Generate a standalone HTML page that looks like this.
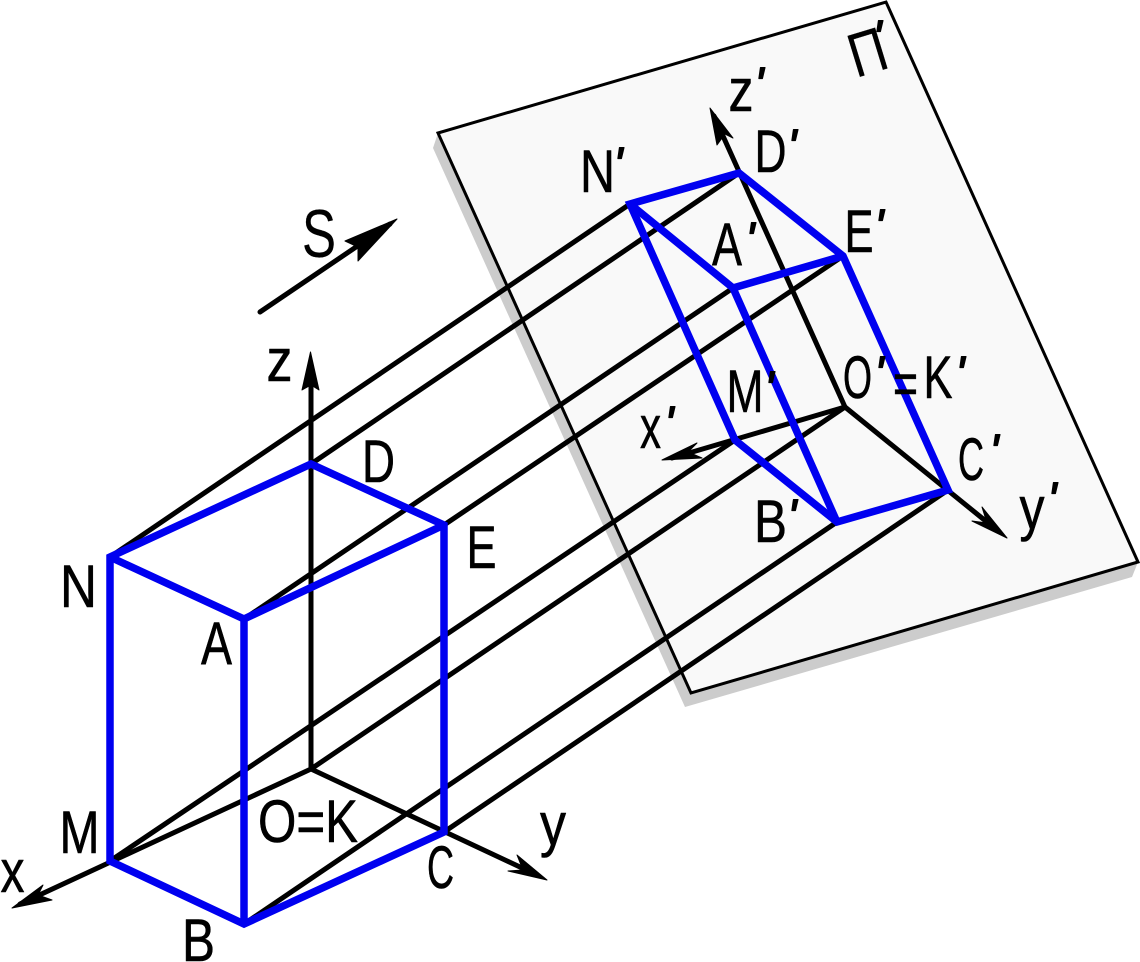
<!DOCTYPE html>
<html><head><meta charset="utf-8"><style>
html,body{margin:0;padding:0;background:#fff}
svg{display:block}
text{font-family:"Liberation Sans",sans-serif;font-size:60px;fill:#000;stroke:#000;stroke-width:.6px;stroke-linejoin:round}
.p{font-size:50px;font-style:italic;stroke-width:1.2px}
</style></head><body>
<svg width="1140" height="962" viewBox="0 0 1140 962" xmlns="http://www.w3.org/2000/svg">
<polygon points="433,148 438,133 691,693 1127,565 1138,562 1132,577 685,707" fill="#cccccc"/>
<polygon points="438,133 886,2 1138,562 691,693" fill="#f9f9f9" stroke="#000" stroke-width="3" stroke-linejoin="miter"/>
<g stroke="#000" stroke-width="5" stroke-linecap="round" fill="none">
<path d="M110 557L630 204M244 619L733 288M311 464L739 173M444 525L843 256M110 861L735 440M311 769L845 407M244 924L837 522M444 832L948 490"/>
<path d="M311 769V365M311 769L20 904M311 769L537 875M845 407L714 116M845 407L672 458M845 407L998 531M260 312L390 224"/>
</g>
<g fill="#000" stroke="#000" stroke-width="1" stroke-linejoin="round">
<polygon points="310.5,352 319,390 311,385 302,390"/>
<polygon points="12,908 43,885 38,895 52,900"/>
<polygon points="547,880 517,855 523,870 508,871"/>
<polygon points="710,108 733,138 725,134 717,145"/>
<polygon points="662,460 697,443 688,452 702,458"/>
<polygon points="1007,538 982,507 987,523 972,521"/>
<polygon points="397,219 345,241 358,247 358,261"/>
</g>
<g stroke="#0000f0" stroke-width="7.5" stroke-linejoin="miter" stroke-linecap="butt" fill="none">
<path d="M110 861V557L311 464L444 525V832L244 924Z"/>
<path d="M244 924V619L110 557M244 619L444 525"/>
<path d="M735 440L630 204L739 173L843 256L948 490L837 522Z"/>
<path d="M837 522L733 288L630 204M733 288L843 256"/>
</g>
<text x="266.5" y="381" textLength="26" lengthAdjust="spacingAndGlyphs">z</text>
<text x="362" y="482" textLength="33" lengthAdjust="spacingAndGlyphs">D</text>
<text x="60" y="607" textLength="37" lengthAdjust="spacingAndGlyphs">N</text>
<text x="466.5" y="568" textLength="30" lengthAdjust="spacingAndGlyphs">E</text>
<text x="201" y="664" textLength="31" lengthAdjust="spacingAndGlyphs">A</text>
<text x="59.5" y="853" textLength="40" lengthAdjust="spacingAndGlyphs">M</text>
<text x="258" y="842" textLength="100" lengthAdjust="spacingAndGlyphs">O=K</text>
<text x="427" y="888" textLength="27" lengthAdjust="spacingAndGlyphs">C</text>
<text x="540" y="845" textLength="26" lengthAdjust="spacingAndGlyphs">y</text>
<text x="0.5" y="892" textLength="24" lengthAdjust="spacingAndGlyphs">x</text>
<text x="182" y="961" textLength="33" lengthAdjust="spacingAndGlyphs">B</text>
<text x="302" y="257" textLength="34" lengthAdjust="spacingAndGlyphs" style="font-size:68px;stroke-width:.2px">S</text>
<text transform="translate(856 78) rotate(-17)" x="0" y="0" textLength="37" lengthAdjust="spacingAndGlyphs" style="font-size:62px;stroke-width:.2px">П</text>
<text x="728.5" y="111" textLength="25" lengthAdjust="spacingAndGlyphs">z</text>
<text x="754.5" y="172" textLength="32" lengthAdjust="spacingAndGlyphs">D</text>
<text x="580" y="192" textLength="35" lengthAdjust="spacingAndGlyphs">N</text>
<text x="712" y="265" textLength="30" lengthAdjust="spacingAndGlyphs">A</text>
<text x="844.5" y="252" textLength="29" lengthAdjust="spacingAndGlyphs">E</text>
<text x="726.5" y="412" textLength="37" lengthAdjust="spacingAndGlyphs">M</text>
<text x="843" y="398" textLength="29" lengthAdjust="spacingAndGlyphs">O</text>
<text x="893" y="404" textLength="25" lengthAdjust="spacingAndGlyphs">=</text>
<text x="923.5" y="398" textLength="29" lengthAdjust="spacingAndGlyphs">K</text>
<text x="640" y="448" textLength="21" lengthAdjust="spacingAndGlyphs">x</text>
<text x="958" y="480" textLength="26" lengthAdjust="spacingAndGlyphs">C</text>
<text x="754" y="542" textLength="33" lengthAdjust="spacingAndGlyphs">B</text>
<text x="1019.5" y="529" textLength="25" lengthAdjust="spacingAndGlyphs">y</text>
<text class="p" x="872" y="55">'</text>
<text class="p" x="754" y="102">'</text>
<text class="p" x="787" y="164">'</text>
<text class="p" x="613" y="182">'</text>
<text class="p" x="745" y="257">'</text>
<text class="p" x="874" y="244">'</text>
<text class="p" x="764" y="406">'</text>
<text class="p" x="874" y="391">'</text>
<text class="p" x="955" y="391">'</text>
<text class="p" x="664" y="441">'</text>
<text class="p" x="989" y="469">'</text>
<text class="p" x="787" y="534">'</text>
<text class="p" x="1047" y="517">'</text>
</svg>
</body></html>
